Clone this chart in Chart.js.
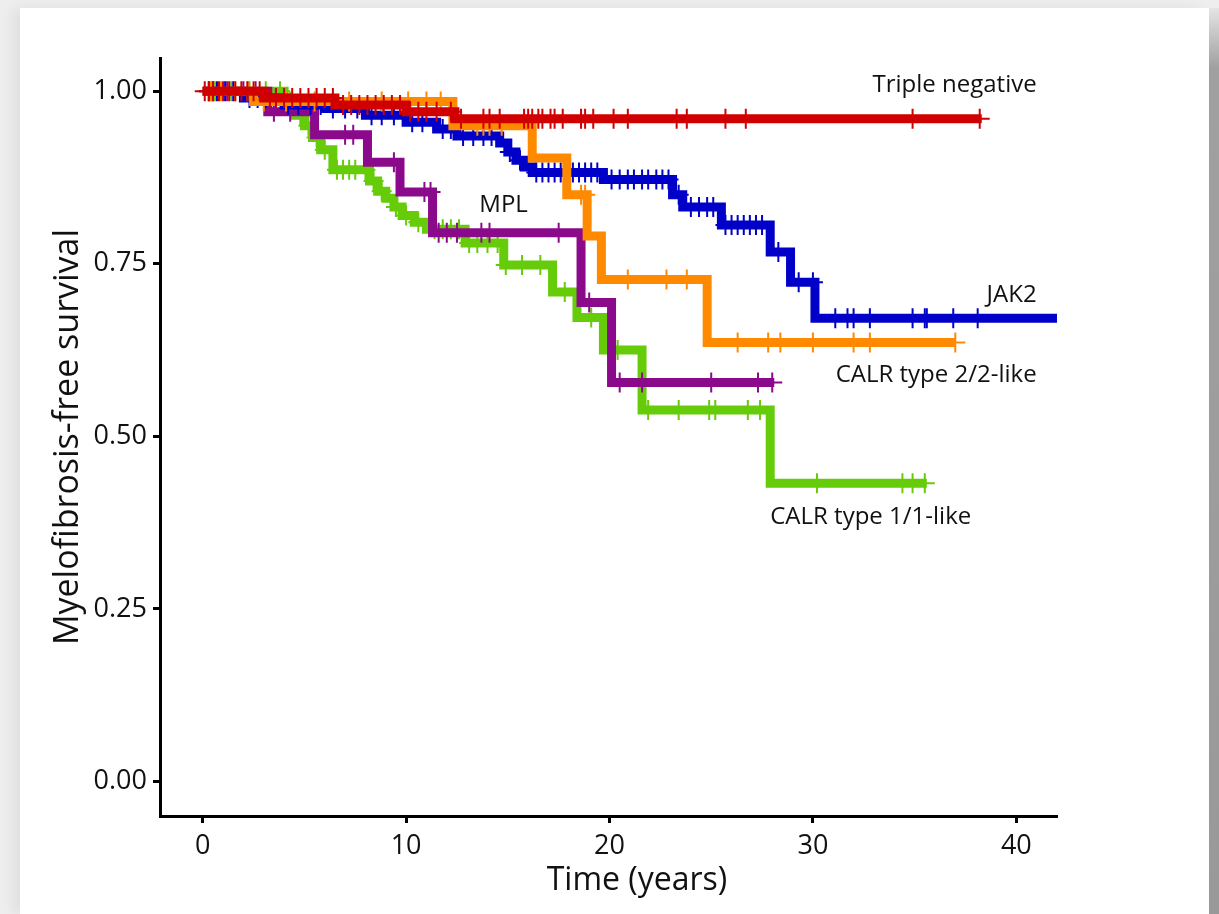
<!DOCTYPE html>
<html>
<head>
<meta charset="utf-8">
<title>Myelofibrosis-free survival</title>
<script src="https://cdn.jsdelivr.net/npm/chart.js@4.4.1/dist/chart.umd.min.js"></script>
<style>
  html, body { margin: 0; padding: 0; }
  body { width: 1219px; height: 914px; background: #eeeeee; position: relative; overflow: hidden; }
  #card { position: absolute; left: 20px; top: 8px; width: 1189px; height: 906px; background: #fff;
          box-shadow: -8px 0 12px rgba(0,0,0,0.06); }
  #edge { position: absolute; left: 1209px; top: 8px; width: 10px; height: 906px;
          background: linear-gradient(to bottom, #e4e4e4 0px, #a0a0a0 60px, #999 100%); }
  #chart { position: absolute; left: 0; top: 0; }
</style>
</head>
<body>
<div id="card"></div>
<div id="edge"></div>
<canvas id="chart" width="1219" height="914"></canvas>
<script>
// Kaplan-Meier steps (time in years, survival after the drop)
const tripleTimes = [0, 3.0, 6.5, 10.0, 12.4, 38.3];
const tripleSurv  = [1, 0.99, 0.98, 0.97, 0.96, 0.96];
const tripleCensor = [0.1, 0.3, 0.5, 0.8, 1.0, 1.3, 1.6, 1.9, 2.2, 2.5, 2.8, 3.3, 3.6, 4.0, 4.4, 4.8, 5.2, 5.6,
  6.0, 6.4, 6.9, 7.3, 7.7, 8.1, 8.5, 8.9, 9.3, 9.7, 10.2, 10.6, 11.0, 11.5, 12.2, 12.7, 13.8, 14.1, 14.6,
  15.8, 16.0, 16.2, 16.5, 16.7, 17.1, 17.3, 17.7, 18.6, 18.8, 19.2, 20.2, 20.9, 23.3, 23.8, 25.7, 26.7, 34.9, 38.2];

const jakTimes = [0, 2.0, 4.0, 6.0, 8.0, 10.0, 11.5, 12.5, 14.6, 15.0, 15.4, 15.8, 16.2, 19.7, 23.1, 23.6, 25.5, 27.9, 28.9, 30.1, 42];
const jakSurv  = [1, 0.99, 0.98, 0.975, 0.965, 0.955, 0.945, 0.935, 0.925, 0.912, 0.90, 0.89, 0.882, 0.872, 0.85, 0.832, 0.806, 0.767, 0.723, 0.671, 0.671];
const jakCensor = [0.3, 0.7, 1.1, 1.5, 2.3, 2.7, 3.1, 3.6, 4.2, 4.7, 5.3, 5.8, 6.4, 7.0, 7.6, 8.3, 8.8, 9.4, 10.3, 10.8,
  11.8, 12.2, 12.8, 13.3, 13.8, 14.2, 15.1, 15.6, 16.4, 16.7, 17.0, 17.3, 17.6, 17.9, 18.2, 18.5, 18.8, 19.1, 19.4,
  20.1, 20.5, 20.9, 21.2, 21.6, 21.9, 22.3, 22.6, 22.9, 23.4, 24.0, 24.4, 24.8, 25.1, 25.7, 26.0, 26.3, 26.6, 26.9,
  27.2, 27.5, 28.3, 29.3, 30.0, 31.1, 31.7, 32.0, 32.8, 34.9, 35.5, 35.6, 36.9, 38.1];

const calr2Times = [0, 2.5, 12.3, 16.2, 17.9, 18.9, 19.6, 24.8, 37.0];
const calr2Surv  = [1, 0.985, 0.95, 0.903, 0.85, 0.79, 0.727, 0.636, 0.636];
const calr2Censor = [0.4, 0.9, 1.6, 2.2, 3.0, 4.1, 5.5, 7.2, 8.8, 10.1, 11.0, 11.7, 13.5, 13.8, 14.1, 14.7,
  18.6, 18.8, 20.9, 22.8, 23.8, 26.3, 27.8, 28.4, 30.0, 32.0, 32.8, 37.0];

const mplTimes = [0, 3.2, 5.5, 8.1, 9.7, 11.3, 18.6, 20.1, 28.1];
const mplSurv  = [1, 0.97, 0.937, 0.897, 0.854, 0.795, 0.694, 0.578, 0.578];
const mplCensor = [0.5, 1.2, 2.0, 2.6, 3.5, 4.3, 7.0, 7.4, 9.4, 10.9, 11.2, 11.6, 12.0, 12.5, 13.7, 14.1, 17.5,
  19.0, 20.5, 21.6, 25.0, 27.3, 28.0];

const calr1Times = [0, 4.0, 4.5, 5.0, 5.4, 5.8, 6.4, 8.2, 8.6, 9.0, 9.4, 9.8, 10.4, 11.0, 12.9, 14.8, 17.2, 18.4, 19.7, 21.6, 27.9, 35.6];
const calr1Surv  = [1, 0.985, 0.965, 0.95, 0.933, 0.915, 0.886, 0.87, 0.855, 0.845, 0.832, 0.82, 0.81, 0.80, 0.78, 0.748, 0.709, 0.672, 0.625, 0.538, 0.432, 0.432];
const calr1Censor = [0.6, 1.4, 2.3, 3.1, 3.8, 4.3, 4.8, 5.2, 5.6, 6.0, 6.6, 6.9, 7.2, 7.5, 8.0, 8.4, 8.8, 9.5, 10.0,
  10.6, 11.4, 11.8, 12.2, 12.6, 13.1, 13.5, 14.0, 14.5, 14.9, 15.7, 16.6, 17.8, 19.1, 20.4, 21.9, 23.4, 24.9, 25.2,
  26.8, 27.4, 30.2, 34.4, 34.9, 35.5];

const xTicks = [0, 10, 20, 30, 40];
const yTicks = [0, 0.25, 0.5, 0.75, 1];

// curve names written next to the lines
const curveLabels = [
  { text: 'Triple negative',     x: 41.0, y: 0.999, align: 'right' },
  { text: 'MPL',                 x: 13.6, y: 0.825, align: 'left' },
  { text: 'JAK2',                x: 41.0, y: 0.695, align: 'right' },
  { text: 'CALR type 2/2-like',  x: 41.0, y: 0.579, align: 'right' },
  { text: 'CALR type 1/1-like',  x: 27.9, y: 0.373, align: 'left' }
];
// x-axis title sits a little right of the plot centre in the original
const xTitle = { text: 'Time (years)', x: 21.35 };

function survAt(times, surv, t) {
  let s = surv[0];
  for (let i = 0; i < times.length; i++) {
    if (times[i] <= t) s = surv[i];
  }
  return s;
}

function curve(times, surv, color, order) {
  return {
    type: 'line',
    data: times.map((t, i) => ({ x: t, y: surv[i] })),
    borderColor: color,
    borderWidth: 9,
    borderCapStyle: 'butt',
    borderJoinStyle: 'miter',
    stepped: 'before',
    pointRadius: 0,
    fill: false,
    order: order
  };
}

function censors(times, surv, marks, color, order) {
  return {
    type: 'scatter',
    data: marks.map(t => ({ x: t, y: survAt(times, surv, t) })),
    pointStyle: 'cross',
    pointRadius: 10,
    borderColor: color,
    borderWidth: 2,
    order: order
  };
}

const RED = '#d10000', BLUE = '#0000c8', ORANGE = '#ff8a00', PURPLE = '#8b0a8b', GREEN = '#66cc0a';

const labelPlugin = {
  id: 'curveLabels',
  afterDatasetsDraw(chart) {
    const { ctx, scales: { x, y }, chartArea } = chart;
    ctx.save();
    ctx.fillStyle = '#111';
    ctx.textBaseline = 'alphabetic';
    ctx.font = '24px "Open Sans"';
    curveLabels.forEach(l => {
      ctx.textAlign = l.align;
      ctx.fillText(l.text, x.getPixelForValue(l.x), y.getPixelForValue(l.y));
    });
    ctx.font = '32px "Open Sans"';
    ctx.textAlign = 'center';
    ctx.fillText(xTitle.text, x.getPixelForValue(xTitle.x), chartArea.bottom + 74);
    ctx.restore();
  }
};

const tickFont = { family: 'Open Sans', size: 27 };

try {
  new Chart(document.getElementById('chart').getContext('2d'), {
    type: 'line',
    data: {
      datasets: [
        censors(tripleTimes, tripleSurv, tripleCensor, RED, 0),
        curve(tripleTimes, tripleSurv, RED, 1),
        censors(calr2Times, calr2Surv, calr2Censor, ORANGE, 2),
        curve(calr2Times, calr2Surv, ORANGE, 3),
        censors(jakTimes, jakSurv, jakCensor, BLUE, 4),
        curve(jakTimes, jakSurv, BLUE, 5),
        censors(mplTimes, mplSurv, mplCensor, PURPLE, 6),
        curve(mplTimes, mplSurv, PURPLE, 7),
        censors(calr1Times, calr1Surv, calr1Censor, GREEN, 8),
        curve(calr1Times, calr1Surv, GREEN, 9)
      ]
    },
    options: {
      responsive: false,
      animation: false,
      layout: { padding: { left: 0, top: 58, right: 162, bottom: 0 } },
      plugins: { legend: { display: false }, tooltip: { enabled: false } },
      scales: {
        x: {
          type: 'linear',
          min: -2.1,
          max: 42,
          afterBuildTicks: s => { s.ticks = xTicks.map(v => ({ value: v })); },
          afterFit: s => { s.height = 98; },
          ticks: { font: tickFont, color: '#111', padding: 7, maxRotation: 0, callback: v => String(v) },
          grid: { drawOnChartArea: false, drawTicks: true, tickLength: 7, tickWidth: 3, tickColor: '#000' },
          border: { display: true, width: 3, color: '#000' }
        },
        y: {
          type: 'linear',
          min: -0.05,
          max: 1.048,
          afterBuildTicks: s => { s.ticks = yTicks.map(v => ({ value: v })); },
          afterFit: s => { s.width = 160; },
          ticks: { font: tickFont, color: '#111', padding: 6, callback: v => v.toFixed(2) },
          grid: { drawOnChartArea: false, drawTicks: true, tickLength: 7, tickWidth: 3, tickColor: '#000' },
          border: { display: true, width: 3, color: '#000' },
          title: { display: true, text: 'Myelofibrosis-free survival', font: { family: 'Open Sans', size: 34 },
                   color: '#111', padding: { top: 48, bottom: 0 } }
        }
      }
    },
    plugins: [labelPlugin]
  });
} catch (error) {
  console.error('KM chart error:', error);
}
</script>
</body>
</html>
